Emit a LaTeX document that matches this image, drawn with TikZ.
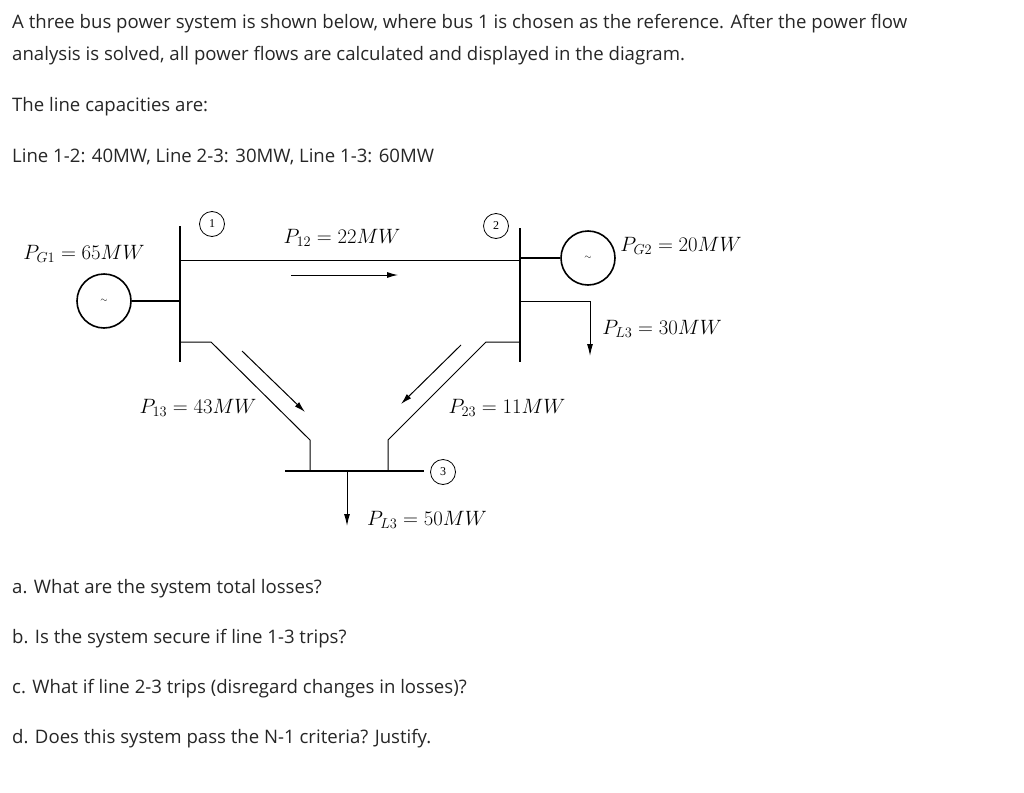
\documentclass[tikz,border=0pt]{standalone}
\usepackage{fontspec}
\setmainfont{Open Sans}
\newfontfamily\numfont{Liberation Serif}
\usetikzlibrary{arrows.meta}
\begin{document}
\begin{tikzpicture}[x=1pt,y=-1pt,
  txt/.style={anchor=west,inner sep=0pt,font=\fontsize{18.6}{20}\selectfont,text=black!85},
  lab/.style={inner sep=0pt,font=\fontsize{21}{23}\selectfont},
  bus/.style={line width=2.4pt},
  ln/.style={line width=1pt},
  flow/.style={line width=1pt,-{Latex[length=11pt,width=6pt]}},
  num/.style={circle,draw,line width=0.8pt,minimum size=25pt,inner sep=0pt,font=\fontsize{12}{13}\selectfont\numfont},
  gen/.style={circle,draw,line width=1.6pt,minimum size=54pt,inner sep=0pt,font=\fontsize{9}{10}\selectfont}]
\useasboundingbox (0,0) rectangle (1024,792);
\node[txt] (t1) at (12,24) {A three bus power system is shown below, where bus 1 is chosen as the reference. After the power flow};
\node[txt] (t2) at (12,56) {analysis is solved, all power flows are calculated and displayed in the diagram.};
\node[txt] (t3) at (12,107) {The line capacities are:};
\node[txt] (t4) at (12,157) {Line 1-2: 40MW, Line 2-3: 30MW, Line 1-3: 60MW};
\node[txt] (qa) at (12,589) {a. What are the system total losses?};
\node[txt] (qb) at (12,639) {b. Is the system secure if line 1-3 trips?};
\node[txt] (qc) at (12,689) {c. What if line 2-3 trips (disregard changes in losses)?};
\node[txt] (qd) at (12,739) {d. Does this system pass the N-1 criteria? Justify.};
% buses
\coordinate (b1t) at (180,226); \coordinate (b1b) at (180,362);
\coordinate (b2t) at (520,228); \coordinate (b2b) at (520,362);
\coordinate (b3l) at (285,471); \coordinate (b3r) at (424,471);
\draw[bus] (b1t) -- (b1b);
\draw[bus] (b2t) -- (b2b);
\draw[bus] (b3l) -- (b3r);
% line 1-2
\coordinate (l12a) at (180,260); \coordinate (l12b) at (520,260);
\draw[ln] (l12a) -- (l12b);
% line 1-3
\coordinate (l13a) at (180,342); \coordinate (l13b) at (211,342);
\coordinate (l13c) at (310,440); \coordinate (l13d) at (310,471);
\draw[ln] (l13a) -- (l13b) -- (l13c) -- (l13d);
% line 2-3
\coordinate (l23a) at (520,342); \coordinate (l23b) at (486,342);
\coordinate (l23c) at (388,440); \coordinate (l23d) at (388,471);
\draw[ln] (l23a) -- (l23b) -- (l23c) -- (l23d);
% generators
\node[gen] (g1) at (104,301) {$\sim$};
\coordinate (g1c) at (180,301);
\draw[line width=1.6pt] (g1) -- (g1c);
\node[gen] (g2) at (588,258) {$\sim$};
\coordinate (g2c) at (520,258);
\draw[line width=1.6pt] (g2c) -- (g2);
% loads
\coordinate (ld2a) at (520,301); \coordinate (ld2b) at (590,301); \coordinate (ld2c) at (590,356);
\draw[ln,-{Latex[length=12pt,width=6pt]}] (ld2a) -- (ld2b) -- (ld2c);
\coordinate (ld3a) at (347,471); \coordinate (ld3b) at (347,526);
\draw[ln,-{Latex[length=12pt,width=6pt]}] (ld3a) -- (ld3b);
% flow arrows
\coordinate (f12a) at (291,275); \coordinate (f12b) at (398,275);
\draw[flow] (f12a) -- (f12b);
\coordinate (f13a) at (242,351); \coordinate (f13b) at (305,412);
\draw[flow] (f13a) -- (f13b);
\coordinate (f23a) at (461,345); \coordinate (f23b) at (401,404);
\draw[flow] (f23a) -- (f23b);
% bus numbers
\node[num] (n1) at (212,224) {1};
\node[num] (n2) at (496,226) {2};
\node[num] (n3) at (443,472) {3};
% labels
\node[lab] (pg1) at (84,254) {$P_{G1}=65MW$};
\node[lab] (p12) at (342,238) {$P_{12}=22MW$};
\node[lab] (pg2) at (681,246) {$P_{G2}=20MW$};
\node[lab] (pl2) at (662,329) {$P_{L3}=30MW$};
\node[lab] (p13) at (198,408) {$P_{13}=43MW$};
\node[lab] (p23) at (507,408) {$P_{23}=11MW$};
\node[lab] (pl3) at (427,520) {$P_{L3}=50MW$};
\end{tikzpicture}
\end{document}
